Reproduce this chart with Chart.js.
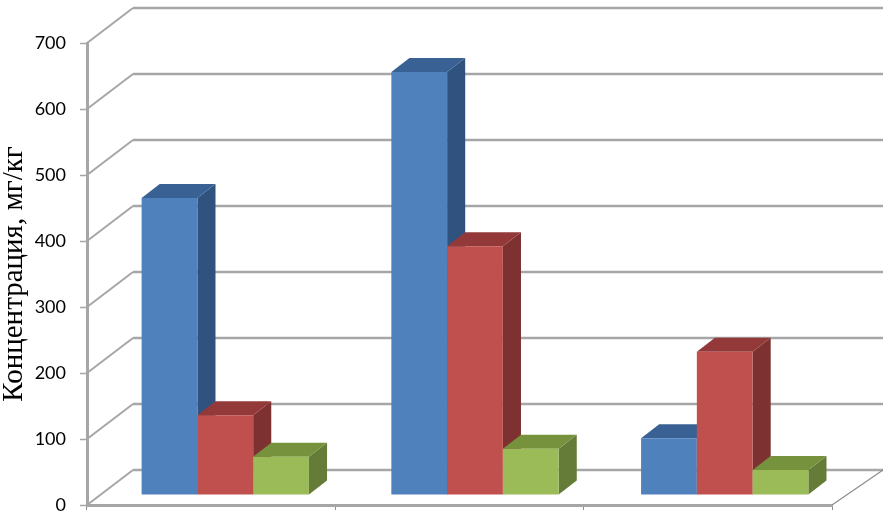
<!DOCTYPE html>
<html lang="ru">
<head>
<meta charset="utf-8">
<title>Концентрация</title>
<script src="https://cdn.jsdelivr.net/npm/chart.js@4"></script>
<style>
    html, body { margin: 0; padding: 0; background: #fff; }
    canvas { display: block; }
</style>
</head>
<body>
<canvas id="chart" width="889" height="513"></canvas>
<script>
// Werte
const categories = ['1', '2', '3'];
const seriesBlue = [450, 641, 86];
const seriesRed = [121, 377, 217];
const seriesGreen = [58, 70, 38];
const yTicks = [0, 100, 200, 300, 400, 500, 600, 700];
const yTitle = 'Концентрация, мг/кг';

const frontColors = ['#4f81bd', '#c0504d', '#9bbb59'];
const sideColors = ['#30527f', '#7d3131', '#657c38'];
const topColors = ['#3a6193', '#94393a', '#76923c'];

const wallDx = 46;
const wallDy = -35;
const floorRight = 51;
const barShift = 15.5;
const barRaise = -10;
const barStretch = 1.0056;
const depthX = 18;
const depthY = -14;
const lineGrey = '#a6a6a6';

// Rueckwand und Boden des 3D-Diagramms
const wallPlugin = {
    id: 'wall',
    beforeDatasetsDraw(chart) {
        const ctx = chart.ctx;
        const x = chart.scales.x;
        const y = chart.scales.y;
        ctx.save();
        ctx.strokeStyle = lineGrey;
        yTicks.forEach(value => {
            const py = y.getPixelForValue(value);
            ctx.lineWidth = 2;
            ctx.beginPath();
            ctx.moveTo(x.left, py);
            ctx.lineTo(x.left + wallDx, py + wallDy);
            ctx.stroke();
            ctx.lineWidth = 2.6;
            ctx.beginPath();
            ctx.moveTo(x.left + wallDx, py + wallDy);
            ctx.lineTo(x.right + floorRight, py + wallDy);
            ctx.stroke();
        });
        const zero = y.getPixelForValue(0);
        ctx.strokeStyle = '#8c8c8c';
        ctx.lineWidth = 1.2;
        ctx.beginPath();
        ctx.moveTo(x.right, zero);
        ctx.lineTo(x.right + floorRight, zero + wallDy);
        ctx.stroke();
        ctx.restore();
    }
};

// Saeulen selber zeichnen: blau zuerst, damit rot und gruen davor liegen
const barFacesPlugin = {
    id: 'barFaces',
    beforeDatasetDraw() {
        return false;
    },
    afterDatasetsDraw(chart) {
        const ctx = chart.ctx;
        const middle = chart.scales.x.getPixelForValue(1);
        ctx.save();
        ctx.transform(barStretch, 0, 0, 1, barShift - (barStretch - 1) * middle, barRaise);
        chart.data.datasets.forEach((dataset, i) => {
            chart.getDatasetMeta(i).data.forEach(bar => {
                const left = bar.x - bar.width / 2;
                const right = bar.x + bar.width / 2;
                ctx.fillStyle = sideColors[i];
                ctx.beginPath();
                ctx.moveTo(right, bar.y);
                ctx.lineTo(right + depthX, bar.y + depthY);
                ctx.lineTo(right + depthX, bar.base + depthY);
                ctx.lineTo(right, bar.base);
                ctx.closePath();
                ctx.fill();
                ctx.fillStyle = topColors[i];
                ctx.beginPath();
                ctx.moveTo(left, bar.y);
                ctx.lineTo(left + depthX, bar.y + depthY);
                ctx.lineTo(right + depthX, bar.y + depthY);
                ctx.lineTo(right, bar.y);
                ctx.closePath();
                ctx.fill();
                bar.draw(ctx);
            });
        });
        ctx.restore();
    }
};

new Chart(document.getElementById('chart'), {
    type: 'bar',
    data: {
        labels: categories,
        datasets: [
            { data: seriesBlue, backgroundColor: frontColors[0] },
            { data: seriesRed, backgroundColor: frontColors[1] },
            { data: seriesGreen, backgroundColor: frontColors[2] }
        ]
    },
    plugins: [wallPlugin, barFacesPlugin],
    options: {
        responsive: false,
        animation: false,
        layout: { padding: { top: 43, right: 57, bottom: 0, left: 0 } },
        datasets: { bar: { categoryPercentage: 0.67, barPercentage: 1, borderWidth: 0 } },
        plugins: { legend: { display: false }, tooltip: { enabled: false } },
        scales: {
            x: {
                afterFit(scale) { scale.height = 8; scale.paddingBottom = 0; },
                ticks: { display: false },
                grid: { drawOnChartArea: false, drawTicks: true, tickLength: 5, tickColor: '#8c8c8c', tickWidth: 1 },
                border: { color: lineGrey, width: 3 }
            },
            y: {
                min: 0,
                max: 700,
                afterFit(scale) { scale.width = 87; scale.paddingTop = 0; scale.paddingBottom = 0; },
                afterBuildTicks(scale) { scale.ticks = yTicks.map(value => ({ value })); },
                ticks: {
                    padding: 14,
                    color: '#000',
                    font: { family: 'Lato', size: 18 }
                },
                title: {
                    display: true,
                    text: yTitle,
                    color: '#000',
                    padding: { top: -3, bottom: 0 },
                    font: { family: 'Liberation Serif', size: 29 }
                },
                grid: { drawOnChartArea: false, drawTicks: true, tickLength: 7, tickColor: lineGrey, tickWidth: 1.5 },
                border: { color: lineGrey, width: 3 }
            }
        }
    }
});
</script>
</body>
</html>
